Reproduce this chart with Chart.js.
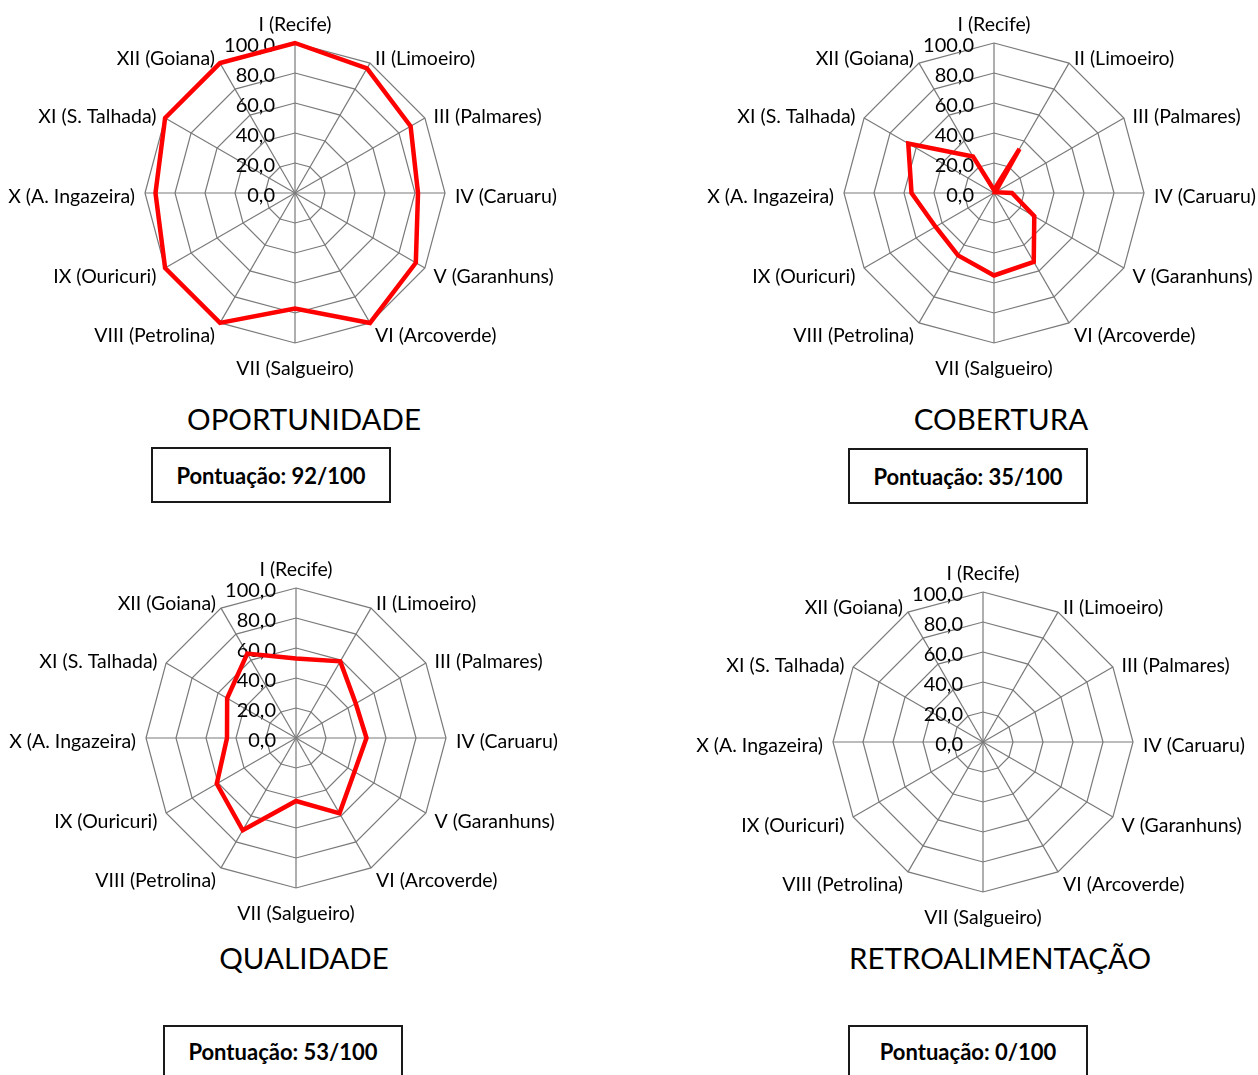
<!DOCTYPE html>
<html>
<head>
    <title>Radar regionais</title>
    <script src="https://cdn.jsdelivr.net/npm/chart.js"></script>
    <style>
        html, body { margin: 0; padding: 0; background: #fff; overflow: hidden; }
        body { width: 1258px; height: 1075px; position: relative; font-family: Lato, Arial, sans-serif; }
        canvas { position: absolute; }
        .titulo { position: absolute; font-size: 29.5px; color: #000; transform: translate(-50%, -50%); white-space: nowrap; }
        .caixa { position: absolute; box-sizing: border-box; border: 2px solid #1a1a1a; width: 240px; height: 56px;
                 font-weight: bold; font-size: 22px; display: flex; align-items: center; justify-content: center; }
        .baixo { padding-bottom: 4px; }
    </style>
</head>
<body>
    <canvas id="c1" width="590" height="380" style="left:0px; top:3px"></canvas>
    <canvas id="c2" width="590" height="380" style="left:699px; top:3px"></canvas>
    <canvas id="c3" width="590" height="380" style="left:1px; top:548px"></canvas>
    <canvas id="c4" width="590" height="380" style="left:688px; top:552px"></canvas>

    <div class="titulo" style="left:304px; top:418px">OPORTUNIDADE</div>
    <div class="titulo" style="left:1001px; top:418px">COBERTURA</div>
    <div class="titulo" style="left:304px; top:957px">QUALIDADE</div>
    <div class="titulo" style="left:1000px; top:957px">RETROALIMENTAÇÃO</div>

    <div class="caixa" style="left:151px; top:447px">Pontuação: 92/100</div>
    <div class="caixa" style="left:848px; top:448px">Pontuação: 35/100</div>
    <div class="caixa baixo" style="left:163px; top:1025px">Pontuação: 53/100</div>
    <div class="caixa baixo" style="left:848px; top:1025px">Pontuação: 0/100</div>

    <script>
        // Regionais
        const regioes = ['I (Recife)', 'II (Limoeiro)', 'III (Palmares)', 'IV (Caruaru)', 'V (Garanhuns)',
            'VI (Arcoverde)', 'VII (Salgueiro)', 'VIII (Petrolina)', 'IX (Ouricuri)', 'X (A. Ingazeira)',
            'XI (S. Talhada)', 'XII (Goiana)'];

        const oportunidade = [100, 96, 89, 82, 93, 100, 77, 100, 100, 93, 100, 100];
        const cobertura = [2, 34, 1, 12, 31, 53, 55, 48, 45, 55, 66, 28];
        const qualidade = [53, 59, 46, 47, 45, 58, 42, 71, 61, 46, 53, 65];
        const retroalimentacao = [0, 0, 0, 0, 0, 0, 0, 0, 0, 0, 0, 0];

        // Escala
        const escalaMin = 0;
        const escalaMax = 100;
        const escalaPasso = 20;

        const fmt = v => v.toFixed(1).replace('.', ',');

        // Rótulos desenhados à mão (estilo Excel)
        const rotulos = {
            id: 'rotulos',
            beforeDatasetsDraw(chart) {
                const s = chart.scales.r;
                const ctx = chart.ctx;
                ctx.save();
                ctx.fillStyle = '#000';
                ctx.font = '20px Lato';
                ctx.textAlign = 'right';
                ctx.textBaseline = 'middle';
                s.ticks.forEach(t => {
                    const d = s.getDistanceFromCenterForValue(t.value);
                    ctx.fillText(fmt(t.value), s.xCenter - 20, s.yCenter - d + 3);
                });
                ctx.restore();
            },
            afterDraw(chart) {
                const s = chart.scales.r;
                const ctx = chart.ctx;
                ctx.save();
                ctx.fillStyle = '#000';
                ctx.font = '19.5px Lato';
                ctx.textBaseline = 'middle';
                chart.data.labels.forEach((lab, i) => {
                    const vert = (i === 0 || i === 6);
                    const p = s.getPointPosition(i, s.drawingArea + (vert ? 22 : 10));
                    if (Math.abs(p.x - s.xCenter) < 1) ctx.textAlign = 'center';
                    else ctx.textAlign = p.x > s.xCenter ? 'left' : 'right';
                    ctx.fillText(lab, p.x, p.y + 4);
                });
                ctx.restore();
            }
        };

        function radar(id, valores) {
            return new Chart(document.getElementById(id), {
                type: 'radar',
                data: {
                    labels: regioes,
                    datasets: [{
                        data: valores,
                        borderColor: '#FF0000',
                        borderWidth: 4.5,
                        pointRadius: 0,
                        pointHoverRadius: 0,
                        fill: false,
                        tension: 0
                    }]
                },
                options: {
                    responsive: false,
                    animation: false,
                    devicePixelRatio: 1,
                    layout: { padding: { left: 145, right: 145, top: 40, bottom: 40 } },
                    plugins: { legend: { display: false }, tooltip: { enabled: false } },
                    scales: {
                        r: {
                            min: escalaMin,
                            max: escalaMax,
                            ticks: { stepSize: escalaPasso, display: false },
                            pointLabels: { display: false },
                            grid: { color: '#7a7a7a', lineWidth: 1.2 },
                            angleLines: { color: '#7a7a7a', lineWidth: 1.2 }
                        }
                    }
                },
                plugins: [rotulos]
            });
        }

        radar('c1', oportunidade);
        radar('c2', cobertura);
        radar('c3', qualidade);
        radar('c4', retroalimentacao);
    </script>
</body>
</html>
